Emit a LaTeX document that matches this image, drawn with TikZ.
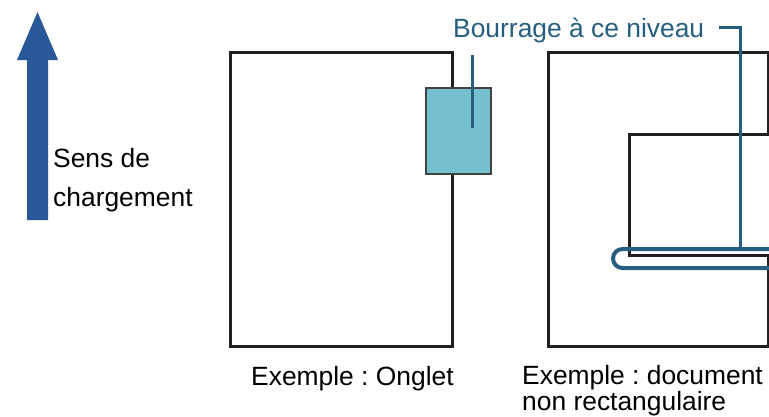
\documentclass[tikz,border=0pt]{standalone}
\usepackage{fontspec}
\setmainfont{Liberation Sans}
\usetikzlibrary{positioning}
\definecolor{jamblue}{RGB}{37,94,126}
\definecolor{arrowblue}{RGB}{40,88,152}
\definecolor{tabfill}{RGB}{116,192,207}
\definecolor{edgegray}{RGB}{35,31,32}
\frenchspacing

\begin{document}
\begin{tikzpicture}[
    x=1pt, y=-1pt,
    sheet/.style={
        draw=edgegray,
        line width=3pt,
        inner sep=0pt
    },
    tab/.style={
        draw=edgegray!85,
        line width=1.3pt,
        fill=tabfill,
        minimum width=65pt,
        minimum height=86pt,
        inner sep=0pt
    },
    lbl/.style={
        font=\fontsize{26.4}{30}\selectfont,
        inner sep=0pt,
        anchor=base west,
        align=left
    },
    lead/.style={draw=jamblue, line width=3pt}
]
\useasboundingbox (0,0) rectangle (769,416);

% loading direction
\fill[arrowblue] (27,220) -- (27,60) -- (17,60) -- (37.5,12) -- (58,60) -- (48,60) -- (48,220) -- cycle;
\node[lbl, font=\fontsize{26.4}{39}\selectfont] (dir) at (53,206) {Sens de\\chargement};

% tab example
\node[sheet, minimum width=222pt, minimum height=294pt] (tabdoc) at (341,199) {};
\node[tab] (tab) at (458.5,131) {};
\draw[lead] ([xshift=13.5pt, yshift=32pt]tab.north) -- ([xshift=13.5pt, yshift=-41pt]tab.north);
\node[lbl] (tabcap) at (251,385) {Exemple : Onglet};

% non rectangular example
\draw[sheet] (548,52) -- (768,52) -- (768,134) -- (629,134) -- (629,255)
    -- (768,255) -- (768,346) -- (548,346) -- cycle;
\coordinate (jam) at (740,249);
\draw[lead, line width=4pt] (775,249) -- (622.5,249)
    arc[start angle=90, end angle=270, radius=9.5pt] -- (775,268);
\node[lbl, text=jamblue] (jamlbl) at (453,37) {Bourrage à ce niveau};
\draw[lead] ([xshift=15pt, yshift=3pt]jamlbl.east) -| (jam);
\node[lbl, font=\fontsize{26.4}{26}\selectfont] (shapecap) at (522,410) {Exemple : document\\non rectangulaire};

\end{tikzpicture}
\end{document}
